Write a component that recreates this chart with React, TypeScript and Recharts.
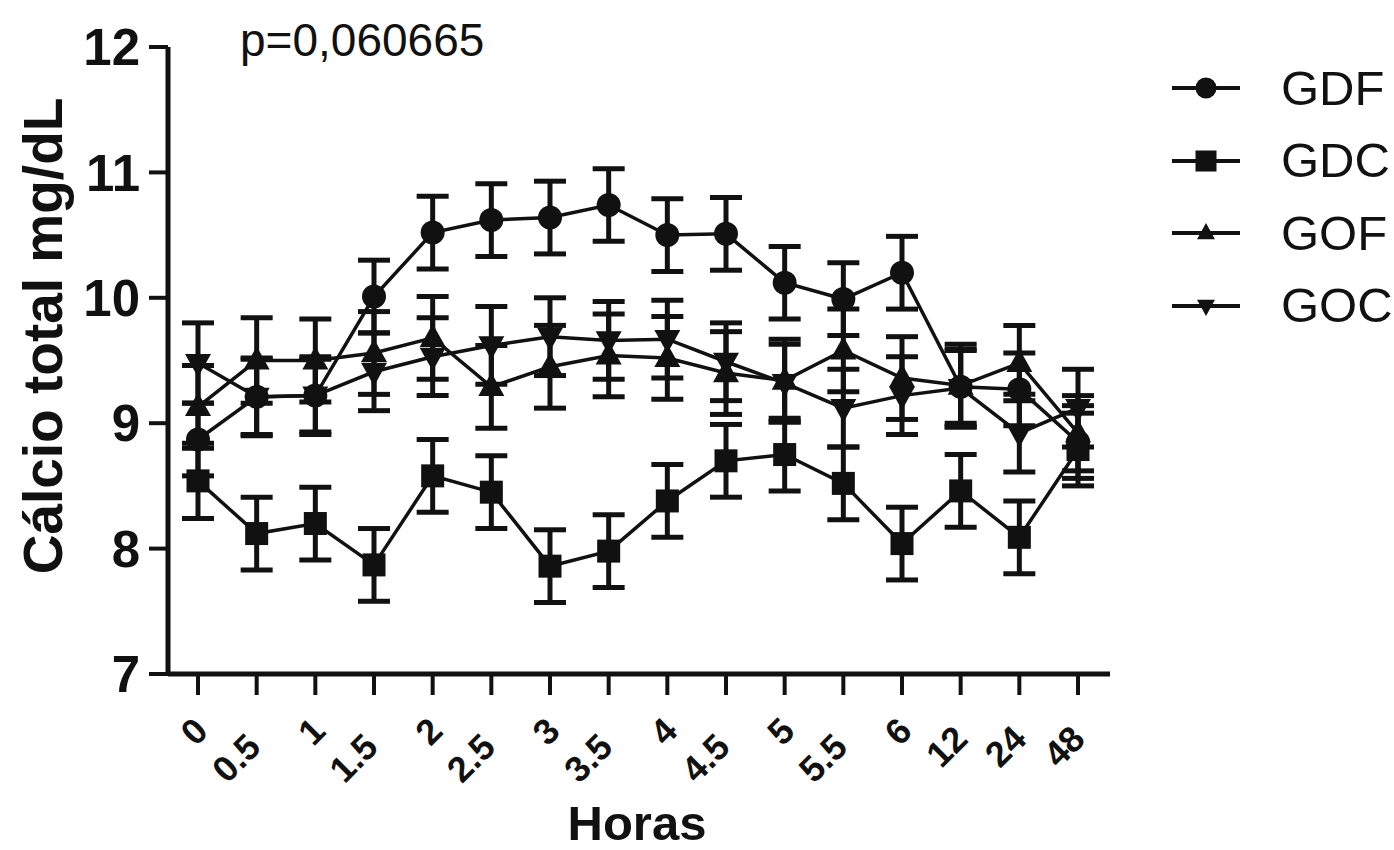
import React from 'react';
import { LineChart, Line, XAxis, YAxis, ErrorBar, Legend, Label } from 'recharts';

// Sampling times (hours)
const hours = ['0', '0.5', '1', '1.5', '2', '2.5', '3', '3.5', '4', '4.5', '5', '5.5', '6', '12', '24', '48'];

// Mean total calcium (mg/dL) and SEM per group
const gdf = [8.87, 9.21, 9.22, 10.01, 10.52, 10.62, 10.64, 10.74, 10.5, 10.51, 10.12, 9.99, 10.2, 9.29, 9.27, 8.85];
const gdfSem = [0.29, 0.3, 0.29, 0.29, 0.29, 0.29, 0.29, 0.29, 0.29, 0.29, 0.29, 0.29, 0.29, 0.29, 0.29, 0.29];

const gdc = [8.54, 8.12, 8.2, 7.87, 8.58, 8.45, 7.86, 7.98, 8.38, 8.7, 8.75, 8.52, 8.04, 8.46, 8.09, 8.79];
const gdcSem = [0.3, 0.29, 0.29, 0.29, 0.29, 0.29, 0.29, 0.29, 0.29, 0.29, 0.29, 0.29, 0.29, 0.29, 0.29, 0.29];

const gof = [9.13, 9.5, 9.5, 9.56, 9.68, 9.29, 9.45, 9.54, 9.52, 9.4, 9.34, 9.58, 9.36, 9.3, 9.48, 8.92];
const gofSem = [0.33, 0.34, 0.33, 0.33, 0.33, 0.33, 0.33, 0.33, 0.33, 0.33, 0.33, 0.33, 0.33, 0.33, 0.3, 0.3];

const goc = [9.48, 9.21, 9.22, 9.41, 9.53, 9.62, 9.69, 9.66, 9.67, 9.49, 9.32, 9.12, 9.22, 9.28, 8.92, 9.12];
const gocSem = [0.32, 0.31, 0.31, 0.31, 0.31, 0.31, 0.31, 0.31, 0.31, 0.31, 0.31, 0.31, 0.31, 0.31, 0.31, 0.31];

const yTicks = [7, 8, 9, 10, 11, 12];
const pValueText = 'p=0,060665';
const xTitle = 'Horas';
const yTitle = 'Cálcio total mg/dL';

type Shape = 'circle' | 'square' | 'up' | 'down';

const series: { key: string; name: string; shape: Shape }[] = [
  { key: 'gdf', name: 'GDF', shape: 'circle' },
  { key: 'gdc', name: 'GDC', shape: 'square' },
  { key: 'gof', name: 'GOF', shape: 'up' },
  { key: 'goc', name: 'GOC', shape: 'down' },
];

const rows = hours.map((hora, i) => ({
  hora,
  gdf: gdf[i],
  gdfErr: gdfSem[i],
  gdc: gdc[i],
  gdcErr: gdcSem[i],
  gof: gof[i],
  gofErr: gofSem[i],
  goc: goc[i],
  gocErr: gocSem[i],
}));

const W = 1394;
const H = 850;
const PLOT_LEFT = 168;
const PLOT_RIGHT = 1110;
const INK = '#111111';
const FONT = '"Liberation Sans", Arial, Helvetica, sans-serif';

function Glyph({ cx, cy, shape, size }: { cx: number; cy: number; shape: Shape; size: number }) {
  if (cx == null || cy == null || Number.isNaN(cx) || Number.isNaN(cy)) return null;
  const h = size / 2;
  if (shape === 'circle') return <circle cx={cx} cy={cy} r={h} fill={INK} />;
  if (shape === 'square') return <rect x={cx - h} y={cy - h} width={size} height={size} fill={INK} />;
  if (shape === 'up')
    return <polygon points={`${cx},${cy - h * 1.1} ${cx + h},${cy + h * 0.7} ${cx - h},${cy + h * 0.7}`} fill={INK} />;
  return <polygon points={`${cx},${cy + h * 1.1} ${cx + h},${cy - h * 0.7} ${cx - h},${cy - h * 0.7}`} fill={INK} />;
}

const makeDot = (key: string, shape: Shape) => (p: any) => (
  <Glyph key={`${key}-${p.index}`} cx={p.cx} cy={p.cy} shape={shape} size={shape === 'circle' ? 24 : shape === 'square' ? 23 : 26} />
);

// Rotated hour labels; longer labels sit a little lower along the axis
function HourTick(props: any) {
  const { x, y, payload } = props;
  const n = String(payload.value).length;
  const ax = x + 12 - 3 * (n - 1);
  const ay = y + 36 + 8 * (n - 1);
  return (
    <text
      x={ax}
      y={ay}
      transform={`rotate(-45 ${ax} ${ay})`}
      textAnchor="end"
      fontSize={36}
      fontWeight="bold"
      fontFamily={FONT}
      fill={INK}
    >
      {payload.value}
    </text>
  );
}

function LegendBox() {
  return (
    <div style={{ fontFamily: FONT, color: INK }}>
      {series.map((s) => (
        <div key={s.key} style={{ display: 'flex', alignItems: 'center', height: 72.5 }}>
          <svg width={116} height={40} style={{ display: 'block' }}>
            <line x1={7} y1={20} x2={75} y2={20} stroke={INK} strokeWidth={4} />
            <Glyph cx={41} cy={20} shape={s.shape} size={s.shape === 'circle' ? 21 : s.shape === 'square' ? 21 : 18} />
          </svg>
          <span style={{ fontSize: 49, lineHeight: 1 }}>{s.name}</span>
        </div>
      ))}
    </div>
  );
}

export default function App() {
  return (
    <div style={{ position: 'absolute', left: 0, top: 0, width: W, height: H, background: '#ffffff', fontFamily: FONT }}>
      <LineChart width={W} height={H} data={rows} margin={{ top: 47, right: W - PLOT_RIGHT, bottom: 6, left: 0 }}>
        <XAxis
          dataKey="hora"
          type="category"
          interval={0}
          height={170}
          padding={{ left: 30, right: 32 }}
          tickSize={21}
          axisLine={{ stroke: INK, strokeWidth: 5 }}
          tickLine={{ stroke: INK, strokeWidth: 4 }}
          tick={<HourTick />}
        >
          <Label
            content={() => (
              <text
                x={(PLOT_LEFT + PLOT_RIGHT) / 2 - 2}
                y={840}
                textAnchor="middle"
                fontSize={49}
                fontWeight="bold"
                fontFamily={FONT}
                fill={INK}
              >
                {xTitle}
              </text>
            )}
          />
        </XAxis>
        <YAxis
          type="number"
          domain={[7, 12]}
          ticks={yTicks}
          interval={0}
          width={PLOT_LEFT}
          tickSize={19}
          tickMargin={9}
          axisLine={{ stroke: INK, strokeWidth: 5 }}
          tickLine={{ stroke: INK, strokeWidth: 4 }}
          tick={{ fill: INK, fontSize: 51, fontWeight: 'bold', fontFamily: FONT }}
        >
          <Label
            content={() => (
              <g>
                <text
                  x={62}
                  y={336}
                  transform="rotate(-90 62 336)"
                  textAnchor="middle"
                  fontSize={55}
                  fontWeight="bold"
                  fontFamily={FONT}
                  fill={INK}
                >
                  {yTitle}
                </text>
                <text x={240} y={56} fontSize={46} fontFamily={FONT} fill={INK}>
                  {pValueText}
                </text>
              </g>
            )}
          />
        </YAxis>
        <Legend
          layout="vertical"
          verticalAlign="middle"
          align="center"
          wrapperStyle={{ position: 'absolute', left: 1165, top: 52, width: 229, right: 'auto', bottom: 'auto' }}
          content={() => <LegendBox />}
        />
        {series.map((s) => (
          <Line
            key={s.key}
            type="linear"
            dataKey={s.key}
            name={s.name}
            stroke={INK}
            strokeWidth={3.5}
            dot={makeDot(s.key, s.shape)}
            activeDot={false}
            isAnimationActive={false}
          >
            <ErrorBar dataKey={`${s.key}Err`} direction="y" width={16} stroke={INK} strokeWidth={5} isAnimationActive={false} />
          </Line>
        ))}
      </LineChart>
    </div>
  );
}
